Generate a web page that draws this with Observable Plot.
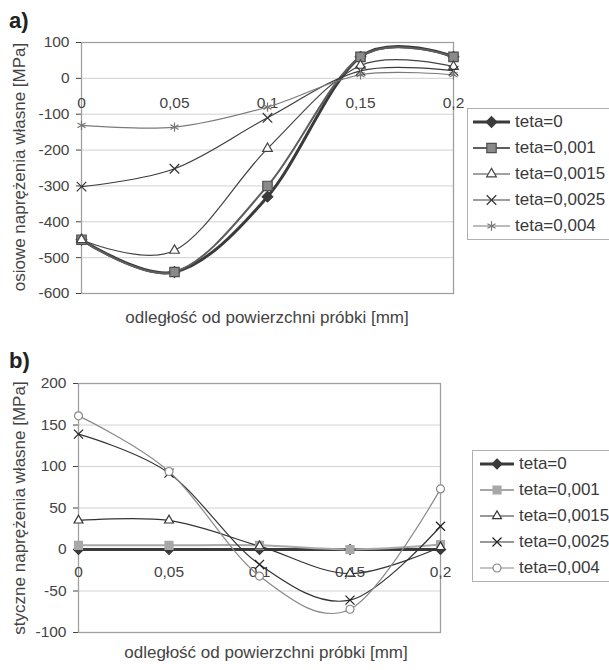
<!DOCTYPE html>
<html>
<head>
<meta charset="utf-8">
<script src="https://cdn.jsdelivr.net/npm/d3@7"></script>
<script src="https://cdn.jsdelivr.net/npm/@observablehq/plot@0.6"></script>
<style>
  html, body { margin: 0; padding: 0; background: #fff; }
  body { width: 609px; height: 670px; overflow: hidden; position: relative; font-family: "Liberation Sans", Arial, sans-serif; }
  .chart { position: absolute; left: 0; }
  .legend { position: absolute; border: 1px solid #b0b0b0; background: #fff; width: 160px; box-sizing: border-box; padding: 0; }
  .legend .row { display: flex; align-items: center; height: 26px; font-size: 17px; color: #3a3a3a; white-space: nowrap; }
  .legend svg { display: block; flex: none; }
  .title { position: absolute; font-weight: bold; font-size: 22px; color: #222; line-height: 1; }
  .ylab, .xlab { position: absolute; font-size: 17px; color: #444; white-space: nowrap; line-height: 1; transform-origin: center center; }
</style>
</head>
<body>
<div id="chartA" class="chart" style="top:0px"></div>
<div id="chartB" class="chart" style="top:335px"></div>
<div id="legendA" class="legend" style="left:467px; top:108px;"></div>
<div id="legendB" class="legend" style="left:472px; top:450px;"></div>
<div id="titleA" class="title" style="left:9px; top:10px;"></div>
<div id="titleB" class="title" style="left:9px; top:350px;"></div>
<div id="yLabA" class="ylab"></div>
<div id="yLabB" class="ylab"></div>
<div id="xLabA" class="xlab"></div>
<div id="xLabB" class="xlab"></div>
<script>
// ---------- DATA ----------
const xValues = [0, 0.05, 0.1, 0.15, 0.2];
const xTickLabels = ["0", "0,05", "0,1", "0,15", "0,2"];
const seriesNames = ["teta=0", "teta=0,001", "teta=0,0015", "teta=0,0025", "teta=0,004"];

// a) axial residual stresses [MPa]
const axialTicks = [-600, -500, -400, -300, -200, -100, 0, 100];
const axial_teta0     = [-450, -540, -330, 60, 60];
const axial_teta0001  = [-450, -540, -300, 60, 60];
const axial_teta00015 = [-450, -480, -196, 36, 33];
const axial_teta00025 = [-302, -252, -110, 21, 21];
const axial_teta0004  = [-131, -136, -80, 10, 10];

// b) tangential residual stresses [MPa]
const tangentialTicks = [-100, -50, 0, 50, 100, 150, 200];
const tang_teta0     = [0, 0, 0, 0, 0];
const tang_teta0001  = [5, 5, 5, 0, 6];
const tang_teta00015 = [35, 35, 4, -29, 3];
const tang_teta00025 = [139, 92, -18, -61, 28];
const tang_teta0004  = [161, 94, -32, -72, 73];

const titleA = "a)";
const titleB = "b)";
const yLabelA = "osiowe naprężenia własne [MPa]";
const yLabelB = "styczne naprężenia własne [MPa]";
const xLabel = "odległość od powierzchni próbki [mm]";

// ---------- STYLES ----------
const stylesA = [
  {symbol: "diamond2", line: "#3a3a3a", lw: 3,   fill: "#3a3a3a", stroke: "#3a3a3a", r: 4.8},
  {symbol: "square",   line: "#5e5e5e", lw: 2,   fill: "#8a8a8a", stroke: "#4e4e4e", r: 5.3},
  {symbol: "triangle", line: "#444",    lw: 1.2, fill: "#fff",    stroke: "#444",    r: 3.6},
  {symbol: "times",    line: "#3c3c3c", lw: 1.2, fill: "none",    stroke: "#333",    r: 4.4},
  {symbol: "asterisk", line: "#7a7a7a", lw: 1.2, fill: "none",    stroke: "#777",    r: 4.4}
];
const stylesB = [
  {symbol: "diamond2", line: "#3a3a3a", lw: 3,   fill: "#3a3a3a", stroke: "#3a3a3a", r: 4.5},
  {symbol: "square",   line: "#a8a8a8", lw: 2,   fill: "#a8a8a8", stroke: "#a8a8a8", r: 4.5},
  {symbol: "triangle", line: "#333",    lw: 1.2, fill: "#fff",    stroke: "#333",    r: 3.3},
  {symbol: "times",    line: "#333",    lw: 1.2, fill: "none",    stroke: "#222",    r: 4.2},
  {symbol: "circle",   line: "#8a8a8a", lw: 1.2, fill: "#fff",    stroke: "#888",    r: 4}
];

const font = "'Liberation Sans', Arial, sans-serif";

function table(values) {
  return xValues.map((x, i) => ({x, y: values[i]}));
}

function makeChart({series, styles, ticks, domain, margins, height, labelDy}) {
  const marks = [
    Plot.ruleY(ticks, {stroke: "#d2d2d2", strokeWidth: 1}),
    Plot.frame({stroke: "#a0a0a0", strokeWidth: 1.3}),
    Plot.text(xValues.map((x, i) => ({x, label: xTickLabels[i]})), {
      x: "x", y: () => 0, text: "label", dy: labelDy, lineAnchor: "middle",
      fontSize: 15.5, fill: "#444"
    })
  ];
  series.forEach((vals, i) => {
    const s = styles[i];
    marks.push(Plot.line(table(vals), {x: "x", y: "y", curve: "cardinal", stroke: s.line, strokeWidth: s.lw}));
  });
  series.forEach((vals, i) => {
    const s = styles[i];
    marks.push(Plot.dot(table(vals), {x: "x", y: "y", symbol: () => s.symbol, r: s.r, fill: s.fill, stroke: s.stroke, strokeWidth: 1.2}));
  });
  return Plot.plot({
    width: 609,
    height,
    marginTop: margins[0], marginRight: margins[1], marginBottom: margins[2], marginLeft: margins[3],
    x: {domain: [0, 0.2], axis: null},
    y: {domain, ticks, tickSize: 5, tickPadding: 7, tickFormat: d => String(d), label: null},
    symbol: {type: "identity"},
    style: {fontSize: "15.5px", fontFamily: font, color: "#444", background: "transparent", overflow: "visible"},
    marks
  });
}

const chartA = makeChart({
  series: [axial_teta0, axial_teta0001, axial_teta00015, axial_teta00025, axial_teta0004],
  styles: stylesA, ticks: axialTicks, domain: [-600, 100],
  margins: [42, 156, 42, 81], height: 335, labelDy: 25
});
document.getElementById("chartA").appendChild(chartA);

const chartB = makeChart({
  series: [tang_teta0, tang_teta0001, tang_teta00015, tang_teta00025, tang_teta0004],
  styles: stylesB, ticks: tangentialTicks, domain: [-100, 200],
  margins: [48, 169, 38, 78], height: 335, labelDy: 23
});
document.getElementById("chartB").appendChild(chartB);

// ---------- TEXT LABELS ----------
document.getElementById("titleA").textContent = titleA;
document.getElementById("titleB").textContent = titleB;
function placeCentered(id, text, cx, cy, rotate) {
  const el = document.getElementById(id);
  el.textContent = text;
  el.style.left = cx + "px";
  el.style.top = cy + "px";
  el.style.transform = `translate(-50%, -50%)` + (rotate ? ` rotate(${rotate}deg)` : "");
}
placeCentered("yLabA", yLabelA, 19, 167, -90);
placeCentered("yLabB", yLabelB, 19, 508, -90);
placeCentered("xLabA", xLabel, 267, 317, 0);
placeCentered("xLabB", xLabel, 266, 652, 0);

// ---------- LEGENDS ----------
const symbolMap = {
  diamond2: d3.symbolDiamond2, square: d3.symbolSquare, triangle: d3.symbolTriangle,
  times: d3.symbolTimes, asterisk: d3.symbolAsterisk, circle: d3.symbolCircle
};
function buildLegend(el, styles, lineLen, padLeft) {
  seriesNames.forEach((name, i) => {
    const s = styles[i];
    const row = document.createElement("div");
    row.className = "row";
    const w = lineLen + padLeft + 5;
    const svg = d3.create("svg").attr("width", w).attr("height", 20);
    svg.append("line").attr("x1", padLeft).attr("x2", padLeft + lineLen).attr("y1", 10).attr("y2", 10)
      .attr("stroke", s.line).attr("stroke-width", s.lw);
    svg.append("path").attr("transform", `translate(${padLeft + lineLen / 2},10)`)
      .attr("d", d3.symbol(symbolMap[s.symbol], Math.PI * s.r * s.r)())
      .attr("fill", s.fill).attr("stroke", s.stroke).attr("stroke-width", 1.2);
    row.appendChild(svg.node());
    const span = document.createElement("span");
    span.textContent = name;
    row.appendChild(span);
    el.appendChild(row);
  });
}
buildLegend(document.getElementById("legendA"), stylesA, 37, 5);
buildLegend(document.getElementById("legendB"), stylesB, 34, 7);
</script>
</body>
</html>
